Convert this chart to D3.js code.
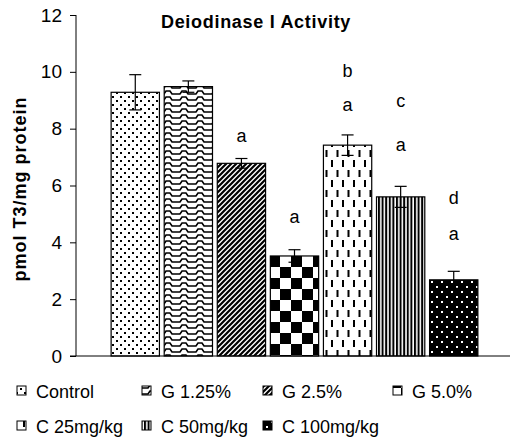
<!DOCTYPE html>
<html>
<head>
<meta charset="utf-8">
<script src="https://cdn.jsdelivr.net/npm/d3@7.9.0/dist/d3.min.js"></script>
<style>
  body { margin: 0; background: #fff; }
  svg { display: block; font-family: Arial, "Liberation Sans", sans-serif; }
</style>
</head>
<body>
<svg id="chart" width="510" height="441"></svg>
<script>
const groups = ['Control', 'G 1.25%', 'G 2.5%', 'G 5.0%', 'C 25mg/kg', 'C 50mg/kg', 'C 100mg/kg'];
const means = [9.28, 9.48, 6.78, 3.52, 7.42, 5.6, 2.68];
const errors = [0.62, 0.2, 0.17, 0.22, 0.36, 0.37, 0.3];
// significance letters and the value level they sit at
const letters = [[], [], ['a'], ['a'], ['a', 'b'], ['a', 'c'], ['a', 'd']];
const letterLevels = [[], [], [7.53], [4.68], [8.62, 9.82], [7.21, 8.76], [4.08, 5.35]];
const yTicks = [0, 2, 4, 6, 8, 10, 12];
const patternIds = ['p-dots', 'p-wave', 'p-diag', 'p-check', 'p-dash', 'p-vert', 'p-inv'];

const svg = d3.select('#chart');

const x = d3.scaleBand().domain(groups).range([109, 480]).paddingInner(0.09).paddingOuter(0.04);
const y = d3.scaleLinear().domain([0, 12]).range([356, 15]);

// fill patterns
const defs = svg.append('defs');
const pat = (id, w, h) => defs.append('pattern').attr('id', id)
  .attr('patternUnits', 'userSpaceOnUse').attr('width', w).attr('height', h);

let p = pat('p-dots', 8, 8);
p.append('rect').attr('x', 0).attr('y', 0).attr('width', 2).attr('height', 2).attr('fill', '#000');
p.append('rect').attr('x', 4).attr('y', 4).attr('width', 2).attr('height', 2).attr('fill', '#000');

p = pat('p-wave', 16, 6);
p.append('path').attr('d', 'M0,4 L4,4 L6,1 L10,1 L12,4 L16,4')
  .attr('fill', 'none').attr('stroke', '#000').attr('stroke-width', 1.6);

p = pat('p-diag', 5, 5);
p.append('path').attr('d', 'M-1,6 L6,-1 M-1,1 L1,-1 M4,6 L6,4')
  .attr('stroke', '#000').attr('stroke-width', 2.2);

p = pat('p-check', 22, 22).attr('x', 269).attr('y', 256);
p.append('rect').attr('width', 11).attr('height', 11).attr('fill', '#000');
p.append('rect').attr('x', 11).attr('y', 11).attr('width', 11).attr('height', 11).attr('fill', '#000');

p = pat('p-dash', 11, 20);
p.append('rect').attr('x', 1).attr('y', 0).attr('width', 2).attr('height', 7).attr('fill', '#000');
p.append('rect').attr('x', 6.5).attr('y', 10).attr('width', 2).attr('height', 7).attr('fill', '#000');

p = pat('p-vert', 3.6, 4);
p.append('rect').attr('width', 2).attr('height', 4).attr('fill', '#000');

p = pat('p-inv', 10, 10);
p.append('rect').attr('width', 10).attr('height', 10).attr('fill', '#000');
p.append('rect').attr('x', 1).attr('y', 1).attr('width', 2).attr('height', 2).attr('fill', '#fff');
p.append('rect').attr('x', 6).attr('y', 6).attr('width', 2).attr('height', 2).attr('fill', '#fff');

// title
svg.append('text').attr('x', 256).attr('y', 28).attr('text-anchor', 'middle')
  .attr('font-size', 18).attr('font-weight', 'bold').attr('letter-spacing', 0.7)
  .text('Deiodinase I Activity');

// y axis
const yAxis = svg.append('g').attr('transform', 'translate(76,0)')
  .call(d3.axisLeft(y).tickValues(yTicks).tickSize(6).tickPadding(8));
yAxis.select('.domain').attr('stroke', '#000').attr('stroke-width', 1).attr('d', `M0,${y(12)}V${y(0)}`);
yAxis.selectAll('.tick line').attr('stroke', '#000');
yAxis.selectAll('.tick text').attr('font-size', 19).attr('fill', '#000')
  .attr('font-family', 'Arial, "Liberation Sans", sans-serif');

// baseline
svg.append('line').attr('x1', 70).attr('x2', 510).attr('y1', y(0)).attr('y2', y(0))
  .attr('stroke', '#000').attr('stroke-width', 1);

svg.append('text').attr('transform', 'translate(26,189) rotate(-90)')
  .attr('text-anchor', 'middle').attr('font-size', 18).attr('font-weight', 'bold')
  .attr('letter-spacing', 1)
  .text('pmol T3/mg protein');

// bars
svg.append('g').selectAll('rect').data(groups).join('rect')
  .attr('x', d => x(d)).attr('width', x.bandwidth())
  .attr('y', (d, i) => y(means[i])).attr('height', (d, i) => y(0) - y(means[i]))
  .attr('fill', (d, i) => `url(#${patternIds[i]})`)
  .attr('stroke', '#000').attr('stroke-width', 1.2);

// error bars
const eb = svg.append('g').attr('stroke', '#000').attr('stroke-width', 1.2);
groups.forEach((g, i) => {
  const cx = x(g) + x.bandwidth() / 2;
  const top = y(means[i] + errors[i]);
  const bot = y(means[i] - errors[i]);
  eb.append('line').attr('x1', cx).attr('x2', cx).attr('y1', top).attr('y2', bot);
  eb.append('line').attr('x1', cx - 6).attr('x2', cx + 6).attr('y1', top).attr('y2', top);
  eb.append('line').attr('x1', cx - 6).attr('x2', cx + 6).attr('y1', bot).attr('y2', bot);
});

// significance letters
groups.forEach((g, i) => {
  const cx = x(g) + x.bandwidth() / 2;
  letters[i].forEach((l, k) => {
    svg.append('text').attr('x', cx).attr('y', y(letterLevels[i][k]))
      .attr('text-anchor', 'middle').attr('font-size', 18).text(l);
  });
});

// legend
const legendCols = [17, 142, 263, 393];
const legendRows = [391, 426];
const legend = svg.append('g');
groups.forEach((g, i) => {
  const lx = legendCols[i % 4];
  const ly = legendRows[Math.floor(i / 4)];
  legend.append('rect').attr('x', lx).attr('y', ly - 5).attr('width', 9).attr('height', 9)
    .attr('fill', `url(#${patternIds[i]})`).attr('stroke', '#000').attr('stroke-width', 1);
  legend.append('text').attr('x', lx + 19).attr('y', ly + 7).attr('font-size', 18).text(g);
});
</script>
</body>
</html>
